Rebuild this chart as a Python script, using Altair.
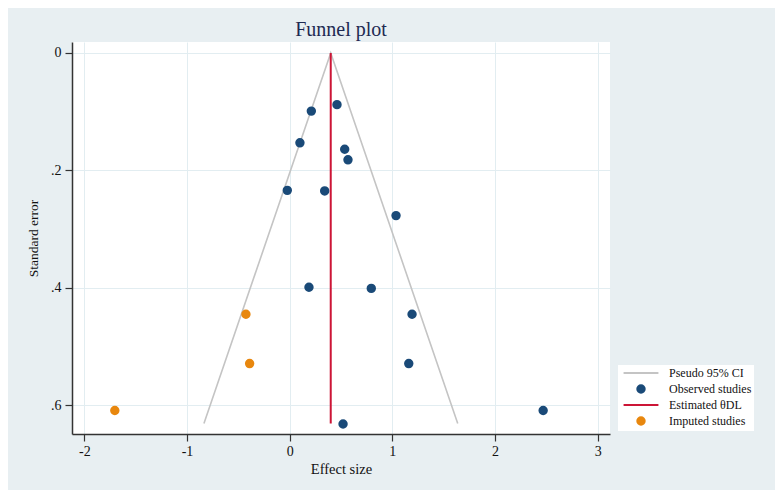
import altair as alt
import pandas as pd

# ---- data ----
obs_es = [0.461, 0.211, 0.100, 0.536, 0.568, -0.023, 0.341, 1.036, 0.188, 0.795, 1.192, 1.160, 2.469, 0.520]
obs_se = [0.088, 0.099, 0.153, 0.164, 0.182, 0.234, 0.235, 0.277, 0.399, 0.401, 0.445, 0.529, 0.609, 0.632]
imp_es = [-0.426, -0.390, -1.703]
imp_se = [0.445, 0.529, 0.609]
ci_es = [-0.835, 0.40, 1.637]
ci_se = [0.631, 0.0, 0.631]
theta = [0.40]
theta_se_top = [0.0]
theta_se_bottom = [0.631]

series = ["Pseudo 95% CI", "Observed studies", "Estimated θDL", "Imputed studies"]
colors = ["#c4c4c4", "#1a4a78", "#cc1536", "#e8870e"]
line_path = "M-4.7,0H4.7"
shapes = [line_path, "circle", line_path, "circle"]

x_ticks = [-2, -1, 0, 1, 2, 3]
y_ticks = [0, 0.2, 0.4, 0.6]

pts = pd.DataFrame({
    "es": obs_es + imp_es,
    "se": obs_se + imp_se,
    "series": [series[1]] * len(obs_es) + [series[3]] * len(imp_es),
})
ci = pd.DataFrame({"es": ci_es, "se": ci_se, "order": list(range(len(ci_es)))})
est = pd.DataFrame({"es": theta, "se0": theta_se_top, "se1": theta_se_bottom})

FONT = "Liberation Serif"

xscale = alt.Scale(domain=[-2.12, 3.12], nice=False, zero=False)
yscale = alt.Scale(domain=[-0.0187, 0.649], reverse=True, nice=False, zero=False)

common_axis = dict(labelFont=FONT, labelFontSize=14, labelColor="#111111",
                   titleFont=FONT, titleFontWeight="normal", titleColor="#111111",
                   domainColor="#333333", domainWidth=1.5, tickColor="#333333", tickWidth=1.2,
                   gridColor="#e2edf1", gridWidth=1, tickSize=7)

xaxis = alt.Axis(values=x_ticks, title="Effect size", format="d",
                 labelExpr="replace(datum.label, '\u2212', '-')",
                 labelPadding=3, titlePadding=4, titleFontSize=14.5, **common_axis)
yaxis = alt.Axis(values=y_ticks, title="Standard error",
                 labelExpr="datum.value == 0 ? '0' : replace(format(datum.value, '.1f'), '0.', '.')",
                 labelPadding=4, titlePadding=10, titleFontSize=13.5, **common_axis)

cscale = alt.Scale(domain=series, range=colors)
sscale = alt.Scale(domain=series, range=shapes)

leg = alt.Legend(title=None, orient="none", legendX=546, legendY=323,
                 fillColor="white", padding=2, labelFont=FONT, labelFontSize=12,
                 labelColor="#111111", symbolOffset=15, labelOffset=22,
                 rowPadding=2, symbolStrokeWidth=2, symbolSize=55)

funnel = alt.Chart(ci).mark_line(strokeWidth=1.6, color=colors[0]).encode(
    x=alt.X("es:Q", scale=xscale, axis=xaxis),
    y=alt.Y("se:Q", scale=yscale, axis=yaxis),
    order="order:Q",
)

rule = alt.Chart(est).mark_rule(strokeWidth=2, color=colors[2]).encode(
    x=alt.X("es:Q", scale=xscale),
    y=alt.Y("se0:Q", scale=yscale),
    y2="se1:Q",
)

points = alt.Chart(pts).mark_point(filled=True, size=55, strokeWidth=2, opacity=1).encode(
    x=alt.X("es:Q", scale=xscale),
    y=alt.Y("se:Q", scale=yscale),
    color=alt.Color("series:N", scale=cscale, legend=leg),
    stroke=alt.Stroke("series:N", scale=alt.Scale(domain=series, range=colors), legend=leg),
    shape=alt.Shape("series:N", scale=sscale, legend=leg),
)

chart = alt.layer(funnel, rule, points).properties(
    width=538, height=392,
    autosize=alt.AutoSizeParams(type="none"),
    padding={"left": 64, "top": 34, "right": 165, "bottom": 56},
    background="#e8eff2",
    title=alt.TitleParams("Funnel plot", font=FONT, fontSize=20, fontWeight="normal",
                          color="#1e2a52", anchor="middle", offset=2),
).configure_view(fill="white", strokeWidth=0)

chart.save("out.html", embed_options={"renderer": "svg", "actions": False})
